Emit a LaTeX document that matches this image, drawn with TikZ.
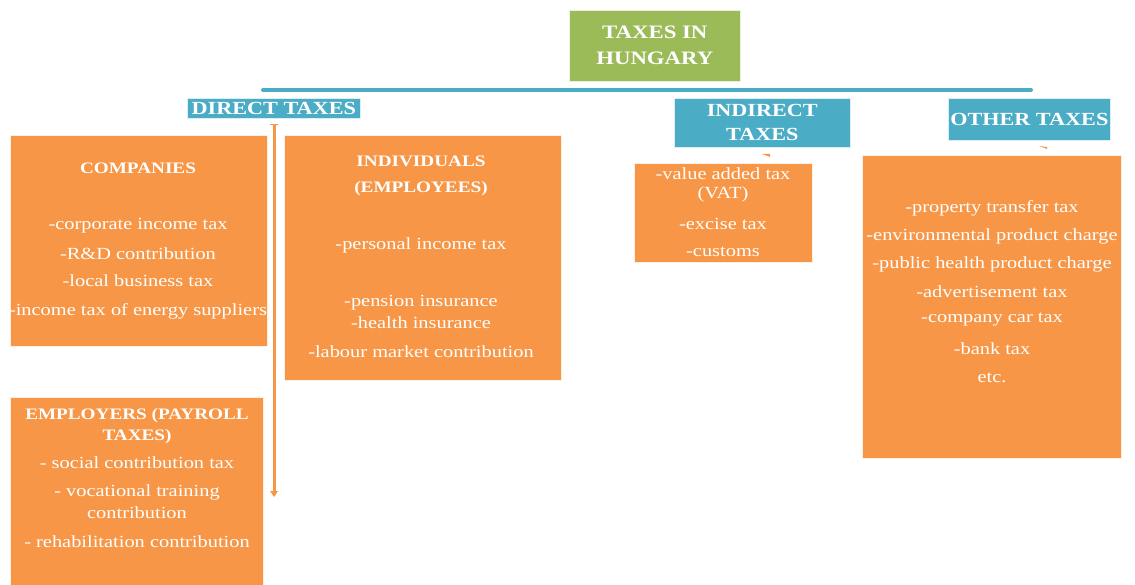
\documentclass[tikz,border=0pt]{standalone}
\usepackage{fontspec}
\setmainfont{Liberation Serif}[FakeStretch=1.2]
\begin{document}
\definecolor{taxorange}{HTML}{F79646}
\definecolor{taxblue}{HTML}{4BACC6}
\definecolor{taxgreen}{HTML}{9BBB59}
\begin{tikzpicture}[x=1pt,y=-1pt,
  panel/.style={draw=white!85!taxorange,line width=0.6pt,fill=taxorange,anchor=north west,inner sep=0pt},
  head/.style={draw=white!80!taxblue,line width=0.6pt,fill=taxblue,anchor=north west,inner sep=0pt,
    text=white,font=\fontsize{18.5}{20}\selectfont\bfseries,align=center},
  item/.style={text=white,font=\fontsize{17}{18}\selectfont,inner sep=0pt,align=center},
  itemhead/.style={item,font=\fontsize{16}{18}\selectfont\bfseries},
  bluebar/.style={draw=taxblue,line width=4pt},
  orangebar/.style={draw=taxorange,line width=3pt}]
\useasboundingbox (0,0) rectangle (1135,585);

% root
\node[draw=white!80!taxgreen,line width=0.6pt,fill=taxgreen,anchor=north west,inner sep=0pt,
  minimum width=171pt,minimum height=71pt,text=white,align=center,
  font=\fontsize{19}{26}\selectfont\bfseries] (root) at (569,10) {TAXES IN\\HUNGARY};

% horizontal branch line
\coordinate (barL) at (263,90);
\coordinate (barR) at (1031,90);
\draw[bluebar,line cap=round] (barL) -- (barR);

% category headers
\node[head,minimum width=173pt,minimum height=20pt] (direct) at (187,98) {DIRECT TAXES};
\node[head,minimum width=176pt,minimum height=49pt,font=\fontsize{18.5}{24}\selectfont\bfseries] (indirect) at (674,98) {INDIRECT\\TAXES};
\node[head,minimum width=162pt,minimum height=42pt] (other) at (948,98) {OTHER TAXES};

% panels
\node[panel,minimum width=257pt,minimum height=211pt] (companies) at (10,135) {};
\node[panel,minimum width=277pt,minimum height=245pt] (individuals) at (284,135) {};
\node[panel,minimum width=253pt,minimum height=190pt] (employers) at (10,397) {};
\node[panel,minimum width=178pt,minimum height=99pt] (indpanel) at (634,163) {};
\node[panel,minimum width=259pt,minimum height=303pt] (othpanel) at (862,155) {};

% vertical line below the direct taxes header
\coordinate (vtop) at (274,125);
\coordinate (vend) at (274,494);
\draw[orangebar] (vtop) -- (vend);
\draw[taxorange,line width=1pt] (270,125) -- (278,125);
\fill[taxorange] (270,491) -- (278,491) -- (274,497) -- cycle;

% small ticks under the headers
\coordinate (tickA) at (766,156);
\coordinate (tickB) at (1043,148);
\fill[taxorange] (tickA) ++(-4,-2) -- ++(8,0) -- ++(0,3) -- cycle;
\fill[taxorange] (tickB) ++(-4,-2) -- ++(8,1) -- ++(0,2) -- cycle;

% companies
\node[itemhead] (co0) at (138,168) {COMPANIES};
\node[item] (co1) at (138,226) {-corporate income tax};
\node[item] (co2) at (138,254) {-R\&D contribution};
\node[item] (co3) at (138,281) {-local business tax};
\node[item] (co4) at (138,311) {-income tax of energy suppliers};

% individuals
\node[itemhead] (in0) at (421,161) {INDIVIDUALS};
\node[itemhead] (in1) at (421,189) {(EMPLOYEES)};
\node[item] (in2) at (421,245) {-personal income tax};
\node[item] (in3) at (421,303) {-pension insurance};
\node[item] (in4) at (421,323) {-health insurance};
\node[item] (in5) at (421,352) {-labour market contribution};

% employers
\node[itemhead] (em0) at (137,416) {EMPLOYERS (PAYROLL};
\node[itemhead] (em1) at (137,437) {TAXES)};
\node[item] (em2) at (137,463) {- social contribution tax};
\node[item] (em3) at (137,492) {- vocational training};
\node[item] (em4) at (137,513) {contribution};
\node[item] (em5) at (137,542) {- rehabilitation contribution};

% indirect taxes
\node[item] (id0) at (723,174) {-value added tax};
\node[item] (id1) at (723,194) {(VAT)};
\node[item] (id2) at (723,224) {-excise tax};
\node[item] (id3) at (723,252) {-customs};

% other taxes
\node[item] (ot0) at (992,208) {-property transfer tax};
\node[item] (ot1) at (992,236) {-environmental product charge};
\node[item] (ot2) at (992,264) {-public health product charge};
\node[item] (ot3) at (992,292) {-advertisement tax};
\node[item] (ot4) at (992,320) {-company car tax};
\node[item] (ot5) at (992,349) {-bank tax};
\node[item] (ot6) at (992,378) {etc.};
\end{tikzpicture}
\end{document}
